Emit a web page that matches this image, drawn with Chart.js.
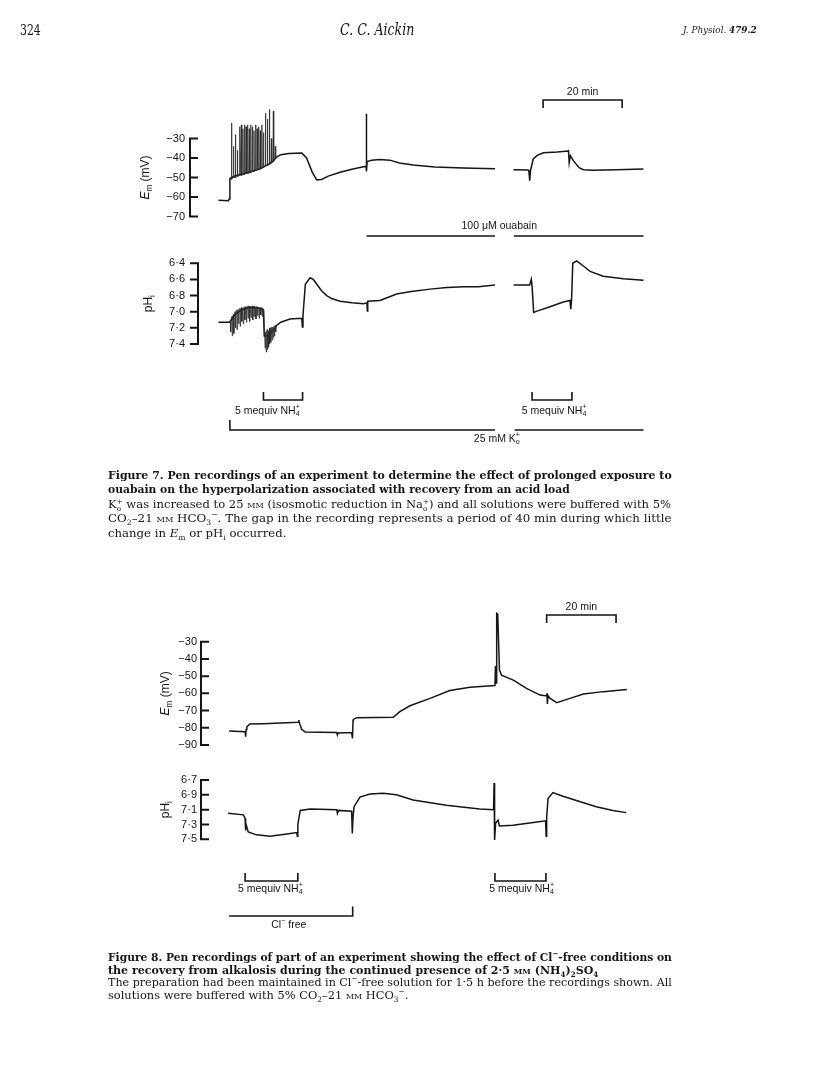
<!DOCTYPE html>
<html>
<head>
<meta charset="utf-8">
<script src="https://cdn.jsdelivr.net/npm/chart.js@4.4.1/dist/chart.umd.min.js"></script>
<style>
  body { margin: 0; background: #fff; }
  #page { position: relative; width: 816px; height: 1088px; overflow: hidden; background: #fff; }
  #c { position: absolute; left: 0; top: 0; }
  .t { position: absolute; white-space: nowrap; font-family: "DejaVu Serif", serif; font-size: 11.5px;
       line-height: 14px; height: 14px; color: #151515; transform-origin: 0 50%; }
  .b { font-weight: bold; }
  .sc { font-variant: small-caps; }
  .t sub, .t sup { font-size: 65%; line-height: 0; }
  .st { display: inline-block; vertical-align: -3px; font-size: 62%; line-height: 7px; text-align: left; }
  .st span { display: block; }
</style>
</head>
<body>
<div id="page">
  <canvas id="c" width="816" height="1088"></canvas>

  <div class="t" style="font-size:14px" data-x="20" data-y="30" data-w="21">324</div>
  <div class="t" style="font-size:16px;font-style:italic" data-x="340" data-y="30" data-w="74">C. C. Aickin</div>
  <div class="t" style="font-size:10px;font-style:italic" data-x="683" data-y="30" data-w="74">J. Physiol. <b>479.2</b></div>

  <div class="t b" data-x="107.5" data-y="474.5" data-w="563.5">Figure 7. Pen recordings of an experiment to determine the effect of prolonged exposure to</div>
  <div class="t b" data-x="107.5" data-y="489" data-w="461.5">ouabain on the hyperpolarization associated with recovery from an acid load</div>
  <div class="t" data-x="107.5" data-y="503.5" data-w="563.5">K<span class="st"><span>+</span><span>o</span></span> was increased to 25 <span class="sc">mm</span> (isosmotic reduction in Na<span class="st"><span>+</span><span>o</span></span>) and all solutions were buffered with 5%</div>
  <div class="t" data-x="107.5" data-y="518" data-w="563.5">CO<sub>2</sub>–21 <span class="sc">mm</span> HCO<sub>3</sub><sup>−</sup>. The gap in the recording represents a period of 40 min during which little</div>
  <div class="t" data-x="107.5" data-y="532.5" data-w="178">change in <i>E</i><sub>m</sub> or pH<sub>i</sub> occurred.</div>

  <div class="t b" data-x="107.5" data-y="956.5" data-w="564">Figure 8. Pen recordings of part of an experiment showing the effect of Cl<sup>−</sup>-free conditions on</div>
  <div class="t b" data-x="107.5" data-y="969.5" data-w="490.5">the recovery from alkalosis during the continued presence of 2·5 <span class="sc">mm</span> (NH<sub>4</sub>)<sub>2</sub>SO<sub>4</sub></div>
  <div class="t" data-x="107.5" data-y="982" data-w="563.5">The preparation had been maintained in Cl<sup>−</sup>-free solution for 1·5 h before the recordings shown. All</div>
  <div class="t" data-x="107.5" data-y="995" data-w="300.5">solutions were buffered with 5% CO<sub>2</sub>–21 <span class="sc">mm</span> HCO<sub>3</sub><sup>−</sup>.</div>
</div>

<script>
// ---- data: [minutes, value] ----

// Figure 7, membrane potential (mV); recording gap between A and B
const fig7EmA = [
  [7.2, -61.7], [9.7, -61.9], [9.9, -61], [10.1, -50.5], [11, -49.5], [12, -48.8], [13, -48.3],
  [14, -47.8], [15, -47.2], [16, -46.6], [17, -46], [18, -45.3], [19, -44.2], [20, -43.2],
  [21, -41.8], [21.9, -39.5], [23, -38.3], [25, -37.7], [28.3, -37.4], [29.5, -40], [31, -47.5],
  [32.1, -51.2], [33.3, -51], [35, -49.3], [38, -47.3], [41, -45.8], [43.9, -44.5], [44.6, -44.3],
  [44.65, -17.3], [44.7, -46.9], [44.85, -41.8], [46, -41.2], [48, -40.8], [50.6, -41.1],
  [53, -42.6], [56.5, -43.6], [62, -44.6], [69.2, -45.1], [77.2, -45.5]
];
const fig7EmB = [
  [81.9, -46], [85.6, -46.1], [85.8, -46.8], [86.0, -51.6], [86.2, -46.5], [86.9, -40.5],
  [88, -38.5], [89.5, -37.3], [93, -36.9], [95.7, -36.4], [95.8, -35.8], [96.0, -42.5],
  [96.3, -38.8], [97.1, -41.5], [98.5, -45], [99.6, -46], [102, -46.3], [108, -46], [114.8, -45.7]
];
// spikes during NH4+ removal: [minutes, low, high]
const fig7EmSpikes = [
  [10.4, -51, -22], [10.9, -50, -34], [11.4, -50, -28], [11.9, -49.5, -36], [12.5, -49, -24],
  [12.9, -49, -23], [13.3, -48.5, -25], [13.7, -48.5, -23], [14.1, -48, -24], [14.5, -48, -23],
  [14.9, -47.5, -25], [15.3, -47.5, -23], [15.7, -47, -24], [16.1, -47, -26], [16.5, -46.5, -23],
  [16.9, -46, -25], [17.3, -46, -24], [17.7, -45.5, -26], [18.1, -45, -23], [18.5, -44.5, -27],
  [19.0, -44, -17], [19.5, -43.5, -20], [20.0, -43, -15], [20.5, -42, -30], [21.0, -41.5, -16],
  [21.5, -40.5, -34]
];

// Figure 7, intracellular pH
const fig7PhA = [
  [7.2, 7.13], [9.9, 7.13], [10.2, 7.12], [11, 7.06], [12, 7.01], [13, 6.98], [14, 6.96],
  [15, 6.95], [16, 6.95], [17, 6.95], [18.4, 6.97], [18.6, 7.0], [18.8, 7.30], [19.5, 7.30],
  [20.5, 7.26], [21.5, 7.2], [21.9, 7.17], [23, 7.13], [25.3, 7.09], [28.3, 7.08], [28.45, 7.19],
  [28.6, 7.05], [29.2, 6.66], [30.4, 6.58], [31.2, 6.6], [32.1, 6.66], [33.3, 6.74], [34.6, 6.80],
  [36, 6.84], [38, 6.87], [41, 6.89], [43.9, 6.90], [44.8, 6.89], [44.9, 6.99], [45.0, 6.87],
  [48.1, 6.86], [52.3, 6.78], [56, 6.75], [60.8, 6.72], [65, 6.70], [69.2, 6.69], [73, 6.69],
  [77.2, 6.67]
];
const fig7PhB = [
  [81.9, 6.67], [86.0, 6.67], [86.4, 6.60], [86.6, 6.68], [87.0, 7.01], [88, 6.99], [90.4, 6.95],
  [94.5, 6.88], [96.2, 6.86], [96.4, 6.97], [96.6, 6.85], [96.9, 6.40], [97.9, 6.37],
  [99.5, 6.43], [101.3, 6.50], [104.6, 6.56], [109.7, 6.59], [114.8, 6.61]
];
// oscillations: [minutes, acid edge, alkaline edge]
const fig7PhSpikes = [
  [10.2, 7.10, 7.25], [10.6, 7.06, 7.30], [11.0, 7.03, 7.27], [11.4, 7.00, 7.20], [11.8, 6.98, 7.22],
  [12.2, 6.97, 7.15], [12.6, 6.96, 7.18], [13.0, 6.95, 7.12], [13.4, 6.95, 7.15], [13.8, 6.94, 7.10],
  [14.2, 6.94, 7.13], [14.6, 6.93, 7.08], [15.0, 6.93, 7.12], [15.4, 6.93, 7.07], [15.8, 6.93, 7.10],
  [16.2, 6.94, 7.06], [16.6, 6.94, 7.09], [17.0, 6.94, 7.05], [17.4, 6.95, 7.08], [17.8, 6.95, 7.04],
  [18.2, 6.96, 7.06], [18.5, 6.97, 7.02], [18.9, 7.28, 7.45], [19.2, 7.25, 7.50], [19.5, 7.22, 7.47],
  [19.8, 7.24, 7.44], [20.1, 7.20, 7.40], [20.4, 7.22, 7.38], [20.7, 7.19, 7.35], [21.0, 7.20, 7.32],
  [21.3, 7.18, 7.30], [21.6, 7.17, 7.25]
];

// Figure 8, membrane potential (mV)
const fig8Em = [
  [8.4, -81.9], [13.0, -82.3], [13.15, -85.2], [13.3, -81], [13.5, -79.4], [14.4, -77.8],
  [18.3, -77.6], [28.3, -76.8], [28.5, -75.5], [28.7, -77.5], [29.3, -80.9], [30.3, -82.4],
  [39.4, -82.8], [39.6, -84.2], [39.8, -83], [43.7, -82.8], [43.95, -86.1], [44.1, -76],
  [44.2, -75.1], [45.2, -74.1], [55.7, -73.9], [57.6, -70.6], [60.5, -67.2], [66.3, -62.9],
  [72.0, -58.4], [77.8, -56.5], [85.0, -55.4], [85.15, -44.1], [85.35, -54], [85.5, -13.5],
  [85.8, -14], [86.3, -46.5], [86.9, -49.4], [90.3, -52.3], [94.1, -57.1], [98.0, -61],
  [99.9, -61.5], [100.0, -60], [100.1, -66.2], [100.3, -61.5], [100.9, -62.9], [102.8, -65.4],
  [106.6, -62.9], [110.5, -60.4], [116.2, -59], [123.0, -57.7]
];
// Figure 8, intracellular pH
const fig8Ph = [
  [8.1, 7.15], [12.5, 7.17], [13.0, 7.22], [13.1, 7.38], [13.2, 7.28], [13.9, 7.40], [16.3, 7.44],
  [20.2, 7.46], [25.0, 7.43], [27.9, 7.41], [28.05, 7.46], [28.2, 7.30], [28.4, 7.24], [28.9, 7.11],
  [31.8, 7.09], [39.4, 7.10], [39.6, 7.15], [39.9, 7.11], [43.7, 7.12], [43.9, 7.42], [44.1, 7.20],
  [44.4, 7.06], [46.1, 6.93], [49.0, 6.89], [52.8, 6.88], [56.6, 6.90], [61.4, 6.97], [71.0, 7.04],
  [80.6, 7.09], [84.6, 7.10], [84.75, 6.74], [84.9, 7.51], [85.2, 7.28], [85.9, 7.24], [86.3, 7.32],
  [90.2, 7.31], [95.0, 7.28], [99.6, 7.25], [99.75, 7.46], [99.9, 7.20], [100.3, 6.95], [101.7, 6.87],
  [104.6, 6.92], [109.4, 6.99], [114.2, 7.06], [119.0, 7.11], [122.8, 7.14]
];

// axis ticks
const em7Ticks = [-30, -40, -50, -60, -70];
const ph7Ticks = [6.4, 6.6, 6.8, 7.0, 7.2, 7.4];
const em8Ticks = [-30, -40, -50, -60, -70, -80, -90];
const ph8Ticks = [6.7, 6.9, 7.1, 7.3, 7.5];

// ---- layout ----
const W = 816, H = 1088;
const PX7 = 3.95, X0_7 = 190;   // fig 7: px per minute, axis position
const PX8 = 3.47, X0_8 = 200;   // fig 8
const INK = '#151515';
const SANS = '"Liberation Sans", Arial, sans-serif';

function xRange(x0, ppm) {
  return { min: -x0 / ppm, max: (W - x0) / ppm };
}
// linear scale so that v1 lands on page pixel p1 and v2 on p2
function fitY(v1, p1, v2, p2) {
  const b = (p2 - p1) / (v2 - v1);
  if (b < 0) {
    const max = v1 + p1 / -b;
    return { min: max - H / -b, max: max, reverse: false };
  }
  const min = v1 - p1 / b;
  return { min: min, max: min + H / b, reverse: true };
}

const pts = a => a.map(([x, y]) => ({ x, y }));
const spikePts = a => a.flatMap(([t, lo, hi]) => [{ x: t, y: lo }, { x: t + 0.1, y: hi }, { x: t + 0.2, y: lo }]);

function trace(data, xa, ya) {
  return { data: pts(data), xAxisID: xa, yAxisID: ya, borderColor: INK, borderWidth: 1.5,
           pointRadius: 0, tension: 0, fill: false };
}
function spikes(data, xa, ya) {
  return { data: spikePts(data), xAxisID: xa, yAxisID: ya, borderColor: '#2a2a2a', borderWidth: 0.8,
           pointRadius: 0, tension: 0, fill: false };
}

// ---- drawing helpers ----
function rich(ctx, parts, cx, cy, size) {
  const items = parts.map(p => typeof p === 'string' ? { s: p } : Object.assign({}, p));
  let x = 0, w = 0, prev = null;
  items.forEach(p => {
    const fs = (p.sub || p.sup) ? size * 0.68 : size;
    p.font = (p.it ? 'italic ' : '') + fs + 'px ' + SANS;
    ctx.font = p.font;
    p.w = ctx.measureText(p.s).width;
    p.x = (p.stack && prev) ? prev.x : x;
    x = Math.max(x, p.x + p.w);
    w = x; prev = p;
  });
  ctx.fillStyle = INK;
  ctx.textBaseline = 'middle';
  ctx.textAlign = 'left';
  items.forEach(p => {
    ctx.font = p.font;
    const dy = p.sub ? size * 0.32 : p.sup ? -size * 0.36 : 0;
    ctx.fillText(p.s, cx - w / 2 + p.x, cy + dy);
  });
}
function bar(ctx, xs, t1, t2, y, legL, legR) {
  const a = xs.getPixelForValue(t1), b = xs.getPixelForValue(t2);
  ctx.beginPath();
  ctx.moveTo(a, y + (legL || 0));
  ctx.lineTo(a, y);
  ctx.lineTo(b, y);
  ctx.lineTo(b, y + (legR || 0));
  ctx.stroke();
}

const minusLab = v => '\u2212' + Math.abs(v);
const dotLab = v => v.toFixed(1).replace('.', '\u00b7');
const emTitle = [{ s: 'E', it: 1 }, { s: 'm', sub: 1 }, ' (mV)'];
const phTitle = ['pH', { s: 'i', sub: 1 }];

const axisDefs = [
  { xs: 'x7', ys: 'em7', lineDx: 0, dir: 1, ticks: em7Ticks, lab: minusLab, labelDx: -5, title: emTitle, titleDx: -44 },
  { xs: 'x7', ys: 'ph7', lineDx: 8, dir: -1, ticks: ph7Ticks, lab: dotLab, labelDx: -13, title: phTitle, titleDx: -49 },
  { xs: 'x8', ys: 'em8', lineDx: 1, dir: 1, ticks: em8Ticks, lab: minusLab, labelDx: -4, title: emTitle, titleDx: -35 },
  { xs: 'x8', ys: 'ph8', lineDx: 1, dir: 1, ticks: ph8Ticks, lab: dotLab, labelDx: -4, title: phTitle, titleDx: -35 }
];

const pagePlugin = {
  id: 'page',
  afterDatasetsDraw(chart) {
    const ctx = chart.ctx, s = chart.scales;
    ctx.save();
    ctx.strokeStyle = INK;
    ctx.fillStyle = INK;

    // pen-recorder style calibration axes
    axisDefs.forEach(a => {
      const xs = s[a.xs], ys = s[a.ys];
      const lx = xs.getPixelForValue(0) + a.lineDx;
      const top = ys.getPixelForValue(a.ticks[0]);
      const bot = ys.getPixelForValue(a.ticks[a.ticks.length - 1]);
      ctx.lineWidth = 2;
      ctx.beginPath();
      ctx.moveTo(lx, top - 1); ctx.lineTo(lx, bot + 1);
      a.ticks.forEach(v => {
        const y = ys.getPixelForValue(v);
        ctx.moveTo(lx, y); ctx.lineTo(lx + a.dir * 8, y);
      });
      ctx.stroke();
      ctx.font = '11px ' + SANS;
      ctx.textAlign = 'right';
      ctx.textBaseline = 'middle';
      a.ticks.forEach(v => ctx.fillText(a.lab(v), lx + a.labelDx, ys.getPixelForValue(v)));
      ctx.save();
      ctx.translate(lx + a.titleDx, (top + bot) / 2);
      ctx.rotate(-Math.PI / 2);
      rich(ctx, a.title, 0, 0, 12);
      ctx.restore();
    });

    const x7 = s.x7, x8 = s.x8;
    const nh4 = ['5 mequiv NH', { s: '4', sub: 1 }, { s: '+', sup: 1, stack: 1 }];
    ctx.lineWidth = 1.6;

    // figure 7 annotations
    bar(ctx, x7, 89.4, 109.4, 100, 8, 8);
    rich(ctx, ['20 min'], x7.getPixelForValue(99.4), 92, 10.5);
    bar(ctx, x7, 44.7, 77.2, 236);
    bar(ctx, x7, 82.0, 114.8, 236);
    rich(ctx, ['100 \u03bcM ouabain'], x7.getPixelForValue(78.3), 226, 10.5);
    bar(ctx, x7, 18.6, 28.5, 400, -8, -8);
    rich(ctx, nh4, x7.getPixelForValue(19.6), 411, 10.5);
    bar(ctx, x7, 86.6, 96.7, 400, -8, -8);
    rich(ctx, nh4, x7.getPixelForValue(92.2), 411, 10.5);
    bar(ctx, x7, 10.1, 77.2, 430, -10, 0);
    bar(ctx, x7, 82.2, 114.8, 430);
    rich(ctx, ['25 mM K', { s: '+', sup: 1 }, { s: 'o', sub: 1, stack: 1 }], x7.getPixelForValue(77.7), 439, 10.5);

    // figure 8 annotations
    bar(ctx, x8, 99.9, 119.9, 615, 8, 8);
    rich(ctx, ['20 min'], x8.getPixelForValue(109.9), 607, 10.5);
    bar(ctx, x8, 13.0, 28.2, 881, -8, -8);
    rich(ctx, nh4, x8.getPixelForValue(20.3), 889, 10.5);
    bar(ctx, x8, 85.0, 99.7, 881, -8, -8);
    rich(ctx, nh4, x8.getPixelForValue(92.7), 889, 10.5);
    bar(ctx, x8, 8.4, 44.0, 916, 0, -9.5);
    rich(ctx, ['Cl', { s: '\u2212', sup: 1 }, ' free'], x8.getPixelForValue(25.6), 925, 10.5);

    ctx.restore();
  }
};

new Chart(document.getElementById('c'), {
  type: 'line',
  data: {
    datasets: [
      spikes(fig7EmSpikes, 'x7', 'em7'),
      trace(fig7EmA, 'x7', 'em7'),
      trace(fig7EmB, 'x7', 'em7'),
      spikes(fig7PhSpikes, 'x7', 'ph7'),
      trace(fig7PhA, 'x7', 'ph7'),
      trace(fig7PhB, 'x7', 'ph7'),
      trace(fig8Em, 'x8', 'em8'),
      trace(fig8Ph, 'x8', 'ph8')
    ]
  },
  options: {
    responsive: false,
    animation: false,
    events: [],
    layout: { padding: 0 },
    plugins: { legend: { display: false }, tooltip: { enabled: false } },
    scales: {
      x7: Object.assign({ type: 'linear', axis: 'x', display: false }, xRange(X0_7, PX7)),
      x8: Object.assign({ type: 'linear', axis: 'x', display: false }, xRange(X0_8, PX8)),
      em7: Object.assign({ type: 'linear', axis: 'y', display: false }, fitY(-30, 138.5, -70, 216.5)),
      ph7: Object.assign({ type: 'linear', axis: 'y', display: false }, fitY(6.4, 263.3, 7.4, 344)),
      em8: Object.assign({ type: 'linear', axis: 'y', display: false }, fitY(-30, 641.7, -90, 745)),
      ph8: Object.assign({ type: 'linear', axis: 'y', display: false }, fitY(6.7, 780, 7.5, 839.3))
    }
  },
  plugins: [pagePlugin]
});

// place the text lines and stretch them to the printed line widths
document.querySelectorAll('.t').forEach(el => {
  el.style.left = el.dataset.x + 'px';
  el.style.top = (el.dataset.y - 7) + 'px';
  const w = +el.dataset.w;
  if (w) el.style.transform = 'scaleX(' + (w / el.offsetWidth).toFixed(4) + ')';
});
</script>
</body>
</html>
